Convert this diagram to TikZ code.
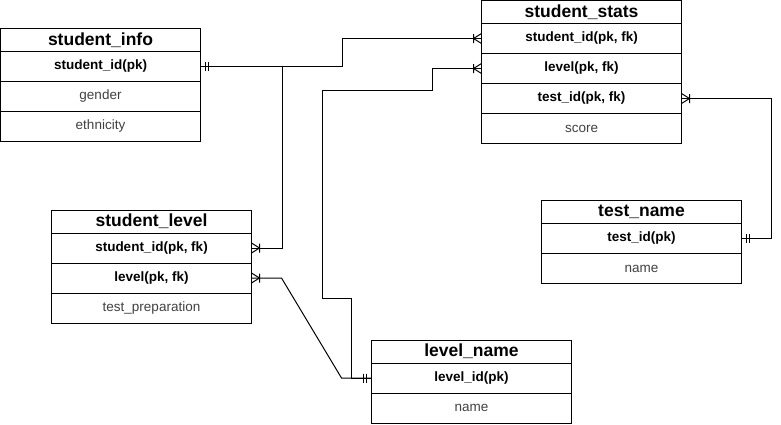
\documentclass[tikz,border=0pt]{standalone}
\usepackage{fontspec}
\setmainfont{Liberation Sans}
\usetikzlibrary{positioning,calc,decorations.markings}

\begin{document}
\begin{tikzpicture}[x=1pt, y=-1pt, line width=1pt,
  tbl/.style={draw, minimum width=200pt, inner sep=0pt, outer sep=0pt},
  tblhead/.style={tbl, minimum height=23pt, font=\fontsize{17.5}{20}\selectfont\bfseries},
  tblkey/.style={tbl, minimum height=30pt, font=\fontsize{13.5}{16}\selectfont\bfseries},
  tblrow/.style={tbl, minimum height=30pt, text=black!75, font=\fontsize{13.5}{16}\selectfont},
  one/.style={postaction={decorate, decoration={markings,
     mark=at position 5pt with {\draw (0,-4.5pt) -- (0,4.5pt);},
     mark=at position 8pt with {\draw (0,-4.5pt) -- (0,4.5pt);}}}},
  many/.style={postaction={decorate, decoration={markings,
     mark=at position -8pt with {\draw (0,-4.5pt) -- (0,4.5pt) (0,0) -- (8pt,-5pt) (0,0) -- (8pt,5pt);}}}}]

\useasboundingbox (0,0) rectangle (781,424);

% tables
\node[tblhead, anchor=north west] (info) at (0.5,28.5) {student\_info};
\node[tblkey, below=0pt of info] (info-id) {student\_id(pk)};
\node[tblrow, below=0pt of info-id] (info-gen) {gender};
\node[tblrow, below=0pt of info-gen] (info-eth) {ethnicity};

\node[tblhead, anchor=north west] (stats) at (481.5,0.5) {student\_stats};
\node[tblkey, below=0pt of stats] (stats-id) {student\_id(pk, fk)};
\node[tblkey, below=0pt of stats-id] (stats-lvl) {level(pk, fk)};
\node[tblkey, below=0pt of stats-lvl] (stats-test) {test\_id(pk, fk)};
\node[tblrow, below=0pt of stats-test] (stats-score) {score};

\node[tblhead, anchor=north west] (lvl) at (51.5,210) {student\_level};
\node[tblkey, below=0pt of lvl] (lvl-id) {student\_id(pk, fk)};
\node[tblkey, below=0pt of lvl-id] (lvl-lvl) {level(pk, fk)};
\node[tblrow, below=0pt of lvl-lvl] (lvl-prep) {test\_preparation};

\node[tblhead, anchor=north west] (tname) at (541.5,200.5) {test\_name};
\node[tblkey, below=0pt of tname] (tname-id) {test\_id(pk)};
\node[tblrow, below=0pt of tname-id] (tname-name) {name};

\node[tblhead, anchor=north west] (lname) at (371.5,340) {level\_name};
\node[tblkey, below=0pt of lname] (lname-id) {level\_id(pk)};
\node[tblrow, below=0pt of lname-id] (lname-name) {name};

% relations
\draw[one, many] (info-id.east) -- ++(142,0) |- (stats-id.west);
\draw[one, many] (info-id.east) -- ++(82,0) |- (lvl-id.east);
\draw[one, many] (lname-id.west) -- ++(-30,0) -- ($(lvl-lvl.east)+(30,0)$) -- (lvl-lvl.east);
\draw[one, many] (lname-id.west) -- ++(-20,0) -- ++(0,-80) -- ++(-29,0) -- ++(0,-208) -- ++(110,0) |- (stats-lvl.west);
\draw[one, many] (tname-id.east) -- ++(30,0) |- (stats-test.east);

\end{tikzpicture}
\end{document}
